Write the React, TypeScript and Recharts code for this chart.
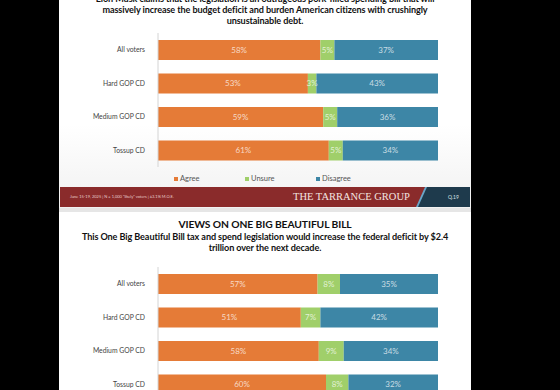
import React from 'react';
import { BarChart, Bar, XAxis, YAxis, LabelList, Legend } from 'recharts';

const groups = ['All voters', 'Hard GOP CD', 'Medium GOP CD', 'Tossup CD'];

// Slide 1: Musk claims
const muskAgree = [58, 53, 59, 61];
const muskUnsure = [5, 3, 5, 5];
const muskDisagree = [37, 43, 36, 34];

// Slide 2: deficit increase
const deficitAgree = [57, 51, 58, 60];
const deficitUnsure = [8, 7, 9, 8];
const deficitDisagree = [35, 42, 34, 32];

const seriesNames = ['Agree', 'Unsure', 'Disagree'];
const COLORS = ['#E57B37', '#A0CF6A', '#3D86A6'];

const FONT = 'Lato, "Open Sans", Arial, sans-serif';

function buildRows(agree: number[], unsure: number[], disagree: number[]) {
  return groups.map((g, i) => ({
    group: g,
    agree: agree[i],
    unsure: unsure[i],
    disagree: disagree[i],
  }));
}

const pct = (v: any) => `${v}%`;

// eslint-disable-next-line @typescript-eslint/no-explicit-any
function GroupTick({ x, y, payload }: any) {
  return (
    <text x={x} y={y} dy={2.5} textAnchor="end" fontSize={6.8} fill="#444" fontFamily={FONT}>
      {payload.value}
    </text>
  );
}

// eslint-disable-next-line @typescript-eslint/no-explicit-any
function LegendRow(_props: any) {
  const xs = [0, 71, 142];
  return (
    <div style={{ position: 'relative', height: 10, fontFamily: FONT, fontSize: 7.5, color: '#555' }}>
      {seriesNames.map((n, i) => (
        <div key={n} style={{ position: 'absolute', left: xs[i], top: 0, display: 'flex', alignItems: 'center' }}>
          <span style={{ width: 4, height: 4, background: COLORS[i], marginRight: 2 }} />
          <span>{n}</span>
        </div>
      ))}
    </div>
  );
}

function StackChart({ rows, withLegend }: { rows: any[]; withLegend?: boolean }) {
  const keys = ['agree', 'unsure', 'disagree'];
  return (
    <BarChart
      width={386}
      height={withLegend ? 164 : 144}
      data={rows}
      layout="vertical"
      stackOffset="expand"
      barSize={20}
      margin={{ top: 5, right: 8, left: 0, bottom: withLegend ? 15 : 5 }}
    >
      <XAxis type="number" hide domain={[0, 1]} />
      <YAxis
        type="category"
        dataKey="group"
        width={98}
        tickLine={false}
        axisLine={{ stroke: '#d4d4d4' }}
        tick={<GroupTick />}
        tickMargin={7}
      />
      {withLegend && (
        <Legend
          content={<LegendRow />}
          wrapperStyle={{ left: 114, top: 146, width: 200, height: 10 }}
        />
      )}
      {keys.map((k, i) => (
        <Bar key={k} dataKey={k} name={seriesNames[i]} stackId="s" fill={COLORS[i]} isAnimationActive={false}>
          <LabelList
            dataKey={k}
            position="center"
            formatter={pct}
            style={{ fill: '#fff', fillOpacity: 0.72, fontSize: 8, fontFamily: FONT }}
          />
        </Bar>
      ))}
    </BarChart>
  );
}

export default function App() {
  const rows1 = buildRows(muskAgree, muskUnsure, muskDisagree);
  const rows2 = buildRows(deficitAgree, deficitUnsure, deficitDisagree);
  const subtitleStyle: React.CSSProperties = {
    fontFamily: FONT,
    fontWeight: 700,
    fontSize: 9.1,
    lineHeight: '11px',
    color: '#111',
    textAlign: 'center',
    letterSpacing: -0.1,
    whiteSpace: 'nowrap',
  };
  return (
    <div style={{ position: 'absolute', left: 0, top: 0, width: 560, height: 390, background: '#000', overflow: 'hidden' }}>
      {/* slide 1 */}
      <div style={{ position: 'absolute', left: 59, top: 0, width: 412, height: 208, background: 'linear-gradient(#ffffff 60%, #f1f1f1)', overflow: 'hidden' }}>
        <div style={{ ...subtitleStyle, position: 'absolute', left: 0, top: -7, width: 412 }}>
          Elon Musk claims that the legislation is an outrageous pork-filled spending bill that will
          <br />
          massively increase the budget deficit and burden American citizens with crushingly
          <br />
          unsustainable debt.
        </div>
        <div style={{ position: 'absolute', left: 1, top: 28 }}>
          <StackChart rows={rows1} withLegend />
        </div>
        {/* footer band */}
        <div style={{ position: 'absolute', left: 1, top: 187, width: 410, height: 20, background: '#8A2B2B', overflow: 'hidden' }}>
          <div style={{ position: 'absolute', left: 10, top: 7, fontSize: 4, color: '#e8cfcf', fontFamily: FONT, whiteSpace: 'nowrap' }}>
            June 15-19, 2025 | N = 1,000 "likely" voters | ±3.1% M.O.E.
          </div>
          <div style={{ position: 'absolute', left: 233, top: 4, fontSize: 10.5, color: '#f3e6e0', fontFamily: '"Liberation Serif", "DejaVu Serif", serif', whiteSpace: 'nowrap' }}>
            THE TARRANCE GROUP
          </div>
          <div style={{ position: 'absolute', left: 356, top: 0, width: 56, height: 20, background: '#6aa6c8', clipPath: 'polygon(9px 0, 56px 0, 56px 20px, 0 20px)' }} />
          <div style={{ position: 'absolute', left: 358, top: 0, width: 54, height: 20, background: '#1E3A4C', clipPath: 'polygon(9px 0, 54px 0, 54px 20px, 0 20px)' }} />
          <div style={{ position: 'absolute', left: 388, top: 7, fontSize: 5, color: '#d8e2e8', fontFamily: FONT }}>Q.19</div>
        </div>
      </div>
      <div style={{ position: 'absolute', left: 59, top: 208, width: 412, height: 4, background: '#e6e6e6' }} />
      {/* slide 2 */}
      <div style={{ position: 'absolute', left: 59, top: 212, width: 412, height: 178, background: '#fff', overflow: 'hidden' }}>
        <div style={{ position: 'absolute', left: 0, top: 6, width: 412, textAlign: 'center', fontFamily: FONT, fontWeight: 700, fontSize: 10.3, color: '#111', letterSpacing: -0.1 }}>
          VIEWS ON ONE BIG BEAUTIFUL BILL
        </div>
        <div style={{ ...subtitleStyle, position: 'absolute', left: 0, top: 19, width: 412 }}>
          This One Big Beautiful Bill tax and spend legislation would increase the federal deficit by $2.4
          <br />
          trillion over the next decade.
        </div>
        <div style={{ position: 'absolute', left: 1, top: 50 }}>
          <StackChart rows={rows2} />
        </div>
      </div>
    </div>
  );
}
